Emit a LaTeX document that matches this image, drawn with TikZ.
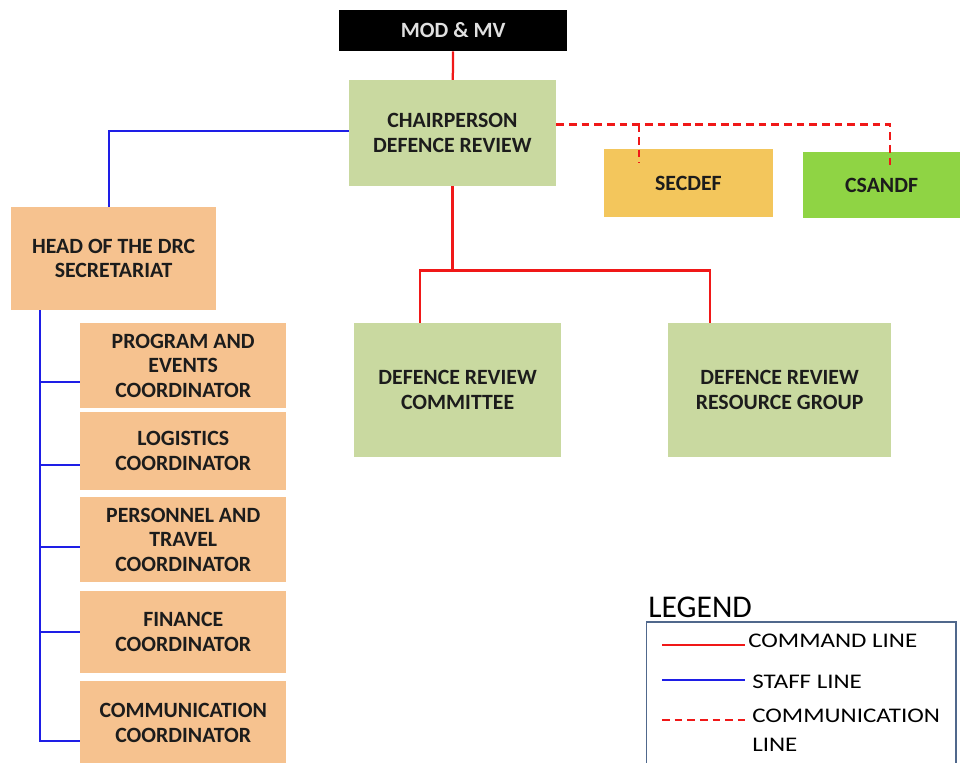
\documentclass[tikz,border=0pt]{standalone}
\usepackage{fontspec}
\setmainfont{Carlito}
\newfontfamily\legendfont{Carlito}[FakeStretch=1.2]
\usetikzlibrary{calc}
\definecolor{drGreen}{HTML}{C9D9A0}
\definecolor{drPeach}{HTML}{F6C28F}
\definecolor{drGold}{HTML}{F3C65C}
\definecolor{drLime}{HTML}{8FD444}
\definecolor{drInk}{HTML}{1C1C1C}
\definecolor{drRed}{HTML}{F01818}
\definecolor{drBlue}{HTML}{1E1EE6}
\definecolor{drFrame}{HTML}{50688C}

\begin{document}
\begin{tikzpicture}[
  unit/.style={fill=drGreen,minimum width=5.18cm,align=center,inner sep=2pt,text=drInk,font=\fontsize{15.5}{17.5}\selectfont\bfseries},
  office/.style={unit,fill=drPeach,minimum width=5.15cm},
  command/.style={drRed,line width=1.6pt},
  staff/.style={drBlue,line width=1.6pt},
  liaison/.style={drRed,line width=1.6pt,dash pattern=on 5.5pt off 3.5pt},
  keytext/.style={anchor=west,inner sep=0pt,align=left,font=\legendfont\fontsize{14.8}{20.6}\selectfont}]

\useasboundingbox (0,0) rectangle (24,-19.05);

\node[unit,fill=black,text=white!88!black,minimum width=5.7cm,minimum height=1.03cm] (mod) at (11.33,-0.76) {MOD \& MV};
\node[unit,minimum height=2.65cm] (chair) at (11.31,-3.33) {CHAIRPERSON\\DEFENCE REVIEW};
\node[unit,fill=drGold,minimum width=4.23cm,minimum height=1.7cm] (secdef) at (17.21,-4.58) {SECDEF};
\node[unit,fill=drLime,minimum width=3.93cm,minimum height=1.65cm] (csandf) at (22.04,-4.63) {CSANDF};
\node[unit,minimum height=3.35cm] (drc) at (11.44,-9.75) {DEFENCE REVIEW\\COMMITTEE};
\node[unit,minimum width=5.58cm,minimum height=3.35cm] (drrg) at (19.49,-9.75) {DEFENCE REVIEW\\RESOURCE GROUP};

\node[office,minimum width=5.13cm,minimum height=2.58cm] (head) at (2.84,-6.46) {HEAD OF THE DRC\\SECRETARIAT};
\node[office,minimum height=2.13cm] (prog) at (4.58,-9.14) {PROGRAM AND\\EVENTS\\COORDINATOR};
\node[office,minimum height=1.95cm] (logi) at (4.58,-11.28) {LOGISTICS\\COORDINATOR};
\node[office,minimum height=2.13cm] (pers) at (4.58,-13.49) {PERSONNEL AND\\TRAVEL\\COORDINATOR};
\node[office,minimum height=2.05cm] (fin) at (4.58,-15.8) {FINANCE\\COORDINATOR};
\node[office,minimum height=2.1cm] (comm) at (4.58,-18.08) {COMMUNICATION\\COORDINATOR};

% command lines
\draw[command] (mod) -- (chair);
\draw[command] (chair.south) -- ++(0,-2.1) coordinate (fork);
\draw[command] (fork) -| ([xshift=-0.94cm]drc.north);
\draw[command] (fork) -| ([xshift=-1.74cm]drrg.north);

% staff lines
\draw[staff] ([yshift=0.05cm]chair.west) -| ([xshift=-0.115cm]head.north);
\coordinate (rail) at ([xshift=0.725cm]head.south west);
\draw[staff] (rail) |- ([yshift=-0.41cm]prog.west);
\draw[staff] (rail) |- ([yshift=-0.35cm]logi.west);
\draw[staff] (rail) |- ([yshift=-0.19cm]pers.west);
\draw[staff] (rail) |- (fin.west);
\draw[staff] (rail) |- ([yshift=-0.45cm]comm.west);

% communication lines
\draw[liaison] ([yshift=0.22cm]chair.east) coordinate (tap) -| ([xshift=0.21cm,yshift=-0.33cm]csandf.north);
\coordinate (drop) at ([xshift=-1.235cm,yshift=-0.35cm]secdef.north);
\draw[liaison] (drop |- tap) -- (drop);

% legend
\node[anchor=west,inner sep=0pt,font=\fontsize{22.5}{24}\selectfont] (legendhead) at (16.2,-15.18) {LEGEND};
\node[draw=drFrame,line width=1pt,minimum width=7.73cm,minimum height=3.8cm,anchor=north west] (legendbox) at (16.15,-15.53) {};
\coordinate (cmdA) at (16.55,-16.13);
\coordinate (cmdB) at (18.63,-16.13);
\coordinate (stfA) at (16.55,-17.0);
\coordinate (stfB) at (18.63,-17.0);
\coordinate (comA) at (16.55,-18.0);
\coordinate (comB) at (18.63,-18.0);
\draw[command] (cmdA) -- (cmdB);
\draw[staff] (stfA) -- (stfB);
\draw[liaison] (comA) -- (comB);
\node[keytext] (cmdkey) at (18.7,-16.03) {COMMAND LINE};
\node[keytext] (stfkey) at (18.8,-17.05) {STAFF LINE};
\node[keytext] (comkey) at (18.8,-18.26) {COMMUNICATION\\LINE};
\end{tikzpicture}
\end{document}
